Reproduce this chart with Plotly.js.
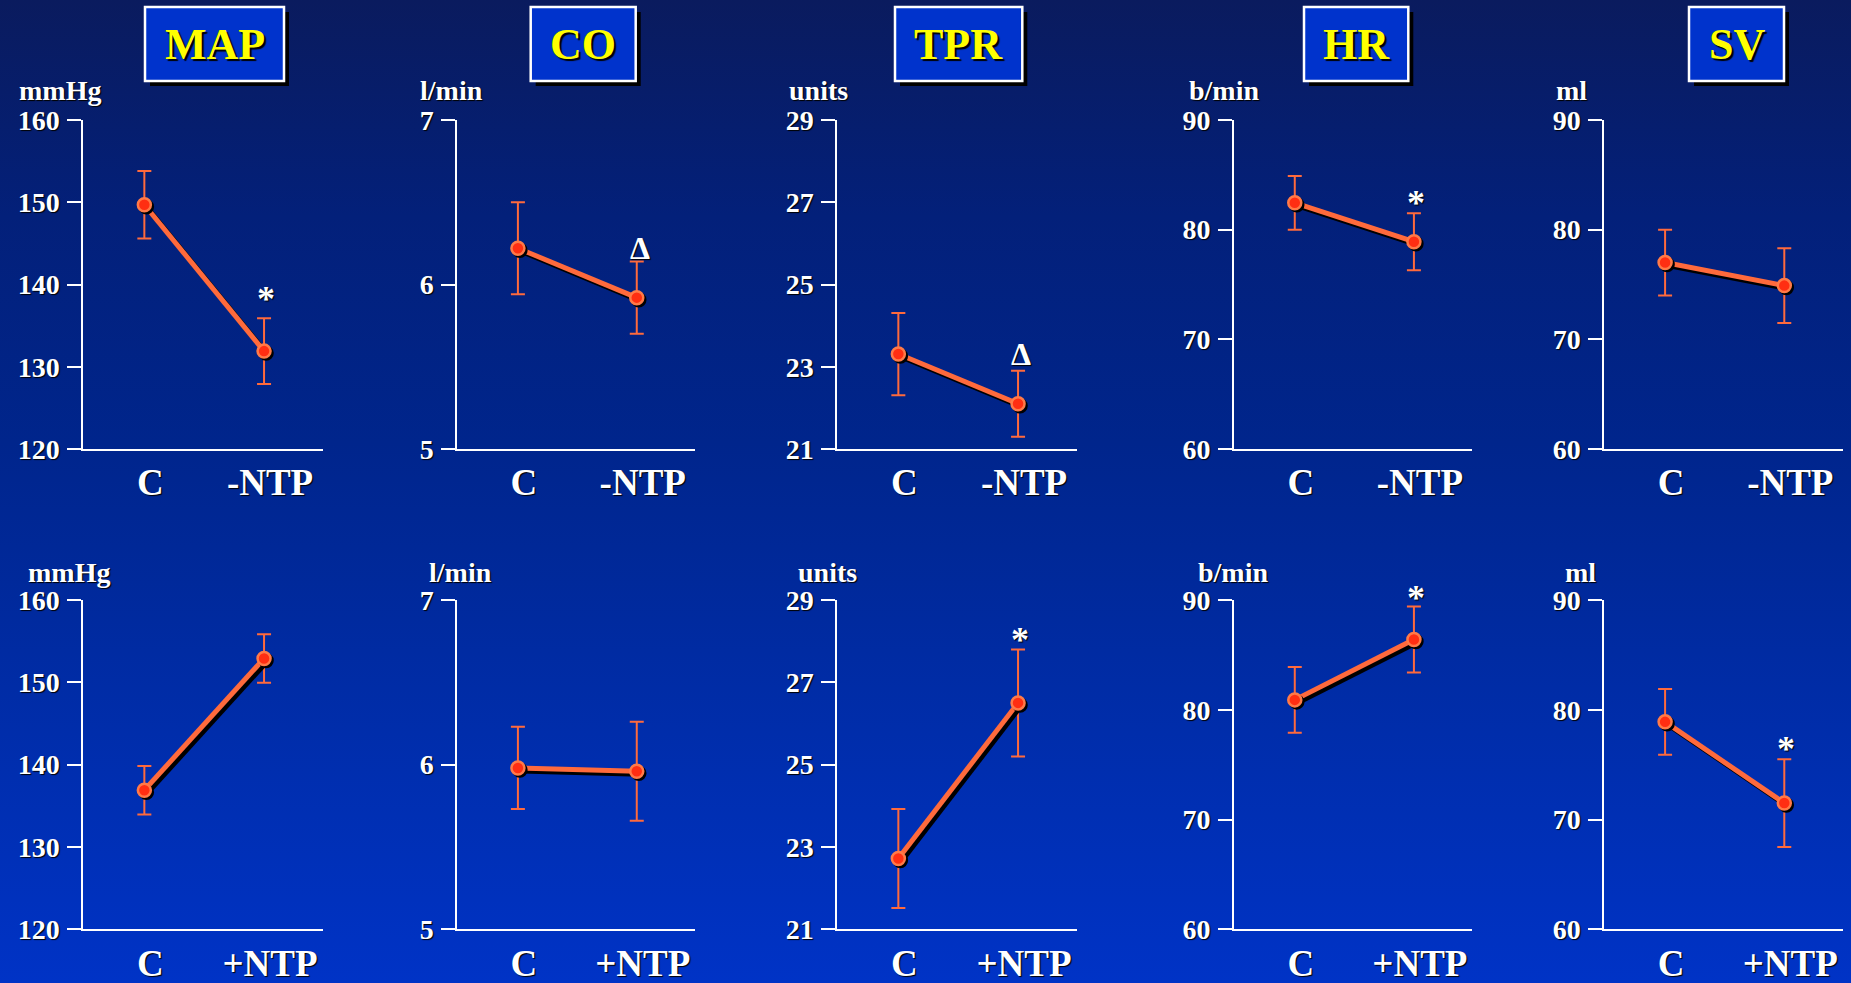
<!DOCTYPE html>
<html>
<head>
<meta charset="utf-8">
<script src="https://cdn.plot.ly/plotly-3.0.1.min.js"></script>
<style>
  html, body { margin: 0; padding: 0; }
  #chart {
    width: 1851px; height: 983px;
    background: linear-gradient(to bottom, #0a1b5e 0%, #03207a 22%, #00258c 45%, #002ca6 70%, #0033c6 100%);
  }
  #chart .js-line { filter: drop-shadow(3px 3px 0px #000); }
  #chart .scatterlayer .points path { filter: drop-shadow(2px 2px 0px #000); }
</style>
</head>
<body>
<div id="chart"></div>
<script>
// ---------- data ----------
const catsMinus = ['C', '-NTP'];
const catsPlus  = ['C', '+NTP'];
const titleNames = ['MAP', 'CO', 'TPR', 'HR', 'SV'];
const unitNames  = ['mmHg', 'l/min', 'units', 'b/min', 'ml'];

const mapTicks = [120, 130, 140, 150, 160];
const coTicks  = [5, 6, 7];
const tprTicks = [21, 23, 25, 27, 29];
const hrTicks  = [60, 70, 80, 90];
const svTicks  = [60, 70, 80, 90];

// top row: withdrawal of NTP
const mapMinusMean = [149.7, 131.9];  const mapMinusSE = [4.1, 4.0];
const coMinusMean  = [6.22, 5.92];    const coMinusSE  = [0.28, 0.22];
const tprMinusMean = [23.31, 22.1];   const tprMinusSE = [1.0, 0.8];
const hrMinusMean  = [82.45, 78.9];   const hrMinusSE  = [2.45, 2.6];
const svMinusMean  = [77.0, 74.9];    const svMinusSE  = [3.0, 3.4];

// bottom row: infusion of NTP
const mapPlusMean = [136.9, 152.9];   const mapPlusSE = [2.95, 2.95];
const coPlusMean  = [5.98, 5.96];     const coPlusSE  = [0.25, 0.3];
const tprPlusMean = [22.72, 26.5];    const tprPlusSE = [1.2, 1.3];
const hrPlusMean  = [80.9, 86.4];     const hrPlusSE  = [3.0, 3.0];
const svPlusMean  = [78.9, 71.5];     const svPlusSE  = [3.0, 4.0];

// significance marks (on the second point)
const sigMinus  = ['*', '\u0394', '\u0394', '*', ''];
const sigMinusY = [139.0, 6.22, 23.31, 83.0, null];
const sigPlus   = ['', '', '*', '*', '*'];
const sigPlusY  = [null, null, 28.17, 90.76, 76.93];

// ---------- layout helpers ----------
const W = 1851, H = 983;
const px = x => x / W;
const py = y => 1 - y / H;
const colX = [[83.3, 322.7], [457.3, 695], [837.3, 1076.7], [1234, 1472.3], [1604.3, 1842.7]];
const rowY = [[120, 449], [600, 929.3]];
const titleBoxes = [[145, 284], [530.7, 635.7], [895, 1022.3], [1304, 1408.3], [1689, 1784]];
const unitPos = [
  [[59.5, 91], [451.7, 91], [818.7, 91], [1224, 91], [1571.8, 91]],
  [[69, 572], [460.5, 572], [827, 572], [1233, 572], [1580, 572]]
];

const serif = "'Liberation Serif', 'Times New Roman', serif";
const orange = '#ff6a3c';

const ticksList = [mapTicks, coTicks, tprTicks, hrTicks, svTicks];
const rows = [
  { cats: catsMinus, means: [mapMinusMean, coMinusMean, tprMinusMean, hrMinusMean, svMinusMean],
    ses: [mapMinusSE, coMinusSE, tprMinusSE, hrMinusSE, svMinusSE], sig: sigMinus, sigY: sigMinusY },
  { cats: catsPlus, means: [mapPlusMean, coPlusMean, tprPlusMean, hrPlusMean, svPlusMean],
    ses: [mapPlusSE, coPlusSE, tprPlusSE, hrPlusSE, svPlusSE], sig: sigPlus, sigY: sigPlusY }
];

const traces = [];
const layout = {
  width: W, height: H,
  margin: { l: 0, r: 0, t: 0, b: 0 },
  paper_bgcolor: 'rgba(0,0,0,0)',
  plot_bgcolor: 'rgba(0,0,0,0)',
  showlegend: false,
  shapes: [],
  annotations: []
};

const whiteFont = (size) => ({ family: serif, size: size, color: '#ffffff', weight: 'bold', shadow: '1px 1px 1px #000' });

rows.forEach((row, r) => {
  for (let c = 0; c < 5; c++) {
    const idx = r * 5 + c + 1;
    const xa = idx === 1 ? 'x' : 'x' + idx;
    const ya = idx === 1 ? 'y' : 'y' + idx;
    const ticks = ticksList[c];
    const yMin = ticks[0], yMax = ticks[ticks.length - 1];
    const pxPerUnit = (rowY[r][1] - rowY[r][0]) / (yMax - yMin);
    traces.push({
      type: 'scatter', mode: 'lines+markers',
      x: row.cats, y: row.means[c],
      xaxis: xa, yaxis: ya,
      line: { color: orange, width: 5 },
      marker: { color: '#ff2e12', size: 13, line: { color: '#ff7a48', width: 2.5 } },
      error_y: { type: 'data', array: row.ses[c], visible: true, color: orange, thickness: 2, width: 7 },
      hoverinfo: 'skip', cliponaxis: false
    });
    layout['xaxis' + (idx === 1 ? '' : idx)] = {
      domain: [px(colX[c][0]), px(colX[c][1])],
      anchor: ya, type: 'category', range: [-0.51, 1.49],
      showline: true, linecolor: '#ffffff', linewidth: 2,
      showgrid: false, zeroline: false, ticks: '',
      tickfont: whiteFont(37), ticklabelstandoff: 0, ticklabelshift: 6,
      fixedrange: true
    };
    layout['yaxis' + (idx === 1 ? '' : idx)] = {
      domain: [py(rowY[r][1]), py(rowY[r][0])],
      anchor: xa, range: [yMin, yMax],
      tickvals: ticks, ticktext: ticks.map(String),
      showline: true, linecolor: '#ffffff', linewidth: 2,
      ticks: 'outside', ticklen: 14, tickwidth: 2, tickcolor: '#ffffff',
      showgrid: false, zeroline: false,
      tickfont: whiteFont(28), ticklabelstandoff: 2,
      fixedrange: true
    };
    // units label
    layout.annotations.push({
      xref: 'paper', yref: 'paper', x: px(unitPos[r][c][0]), y: py(unitPos[r][c][1]),
      xanchor: 'center', yanchor: 'middle', showarrow: false,
      text: unitNames[c], font: whiteFont(28)
    });
    // significance mark (kept inside the axis range; any overshoot becomes a pixel shift)
    if (row.sig[c]) {
      const isStar = row.sig[c] === '*';
      const yv = Math.min(row.sigY[c], yMax);
      const extra = (row.sigY[c] - yv) * pxPerUnit;
      layout.annotations.push({
        xref: xa, yref: ya, x: row.cats[1], y: yv,
        xanchor: 'center', yanchor: 'middle', showarrow: false,
        xshift: isStar ? 2 : 3, yshift: (isStar ? -6 : 0) + extra,
        text: row.sig[c], font: whiteFont(isStar ? 36 : 32)
      });
    }
  }
});

// title boxes
titleBoxes.forEach((b, i) => {
  const y0 = 7, y1 = 81;
  layout.shapes.push({
    type: 'rect', xref: 'paper', yref: 'paper', layer: 'below',
    x0: px(b[0] + 5), x1: px(b[1] + 5), y0: py(y1 + 5), y1: py(y0 + 5),
    fillcolor: '#000000', line: { width: 0 }
  });
  layout.shapes.push({
    type: 'rect', xref: 'paper', yref: 'paper', layer: 'below',
    x0: px(b[0]), x1: px(b[1]), y0: py(y1), y1: py(y0),
    fillcolor: '#0033cc', line: { color: '#ffffff', width: 2.5 }
  });
  layout.annotations.push({
    xref: 'paper', yref: 'paper', x: px((b[0] + b[1]) / 2), y: py(44),
    xanchor: 'center', yanchor: 'middle', showarrow: false,
    text: titleNames[i],
    font: { family: serif, size: 44, color: '#ffff00', weight: 'bold', shadow: '2px 2px 1px #000' }
  });
});

Plotly.newPlot('chart', traces, layout, { staticPlot: true, displayModeBar: false });
</script>
</body>
</html>
